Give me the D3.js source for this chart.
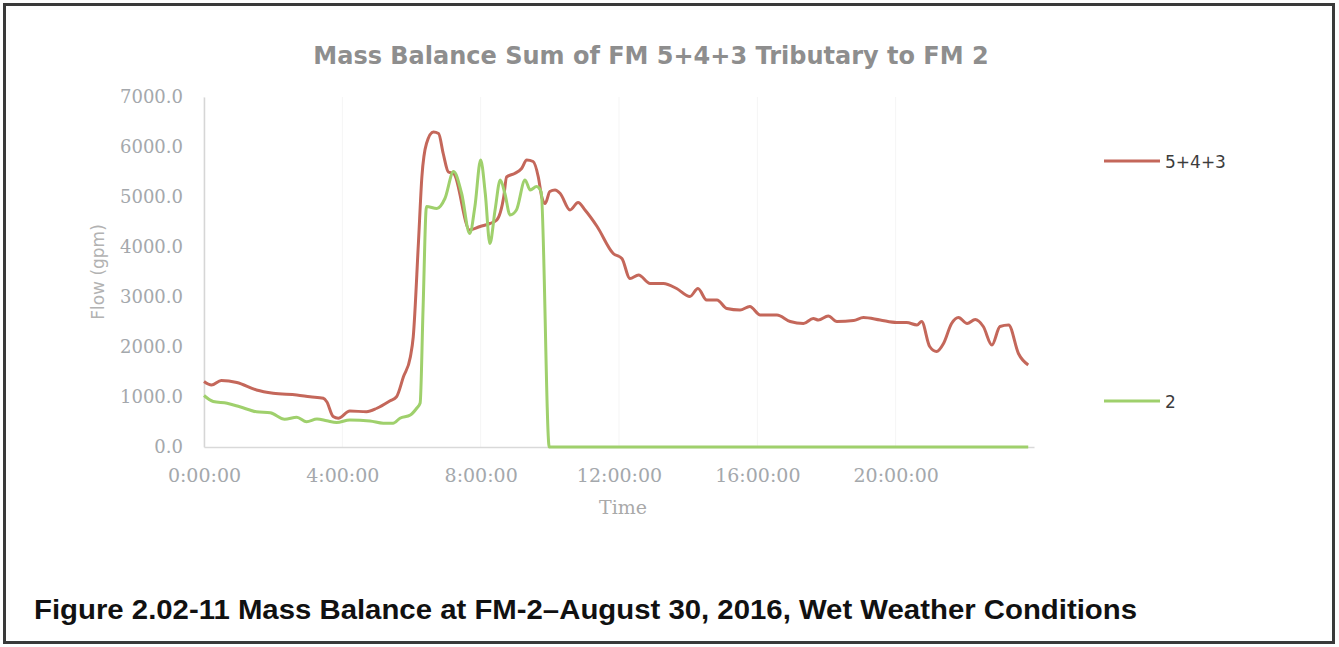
<!DOCTYPE html>
<html>
<head>
<meta charset="utf-8">
<script src="https://d3js.org/d3.v7.min.js"></script>
<style>
  html, body { margin: 0; padding: 0; background: #fff; }
  svg { display: block; }
</style>
</head>
<body>
<svg id="chart" width="1339" height="647"></svg>
<script>
// Sum of FM 5+4+3 (time as H:MM)
const sumTimes = ["0:00","0:13","0:30","0:57","1:31","2:00","2:41","3:04","3:27","3:33","3:44","3:53",
  "4:13","4:42","5:00","5:23","5:34","5:46","5:58","6:03","6:12","6:18","6:26","6:38","6:47","6:55",
  "7:04","7:13","7:41","7:59","8:16","8:28","8:40","8:45","8:59","9:11","9:20","9:31","9:40","9:46",
  "9:52","10:00","10:09","10:18","10:35","10:49","11:01","11:22","11:50","12:05","12:19","12:34",
  "12:54","13:17","13:40","14:03","14:17","14:32","14:50","15:07","15:30","15:47","16:05","16:34",
  "16:57","17:20","17:37","17:46","18:03","18:18","18:47","19:04","19:33","20:02","20:19","20:37",
  "20:45","20:59","21:11","21:23","21:37","21:49","22:04","22:18","22:32","22:47","23:01","23:16",
  "23:33","23:50"];
const sumFlow = [1310,1240,1330,1290,1140,1075,1040,1005,975,905,610,575,
  720,705,775,925,1005,1405,1800,2200,4080,5400,6070,6300,6270,5870,
  5500,5470,4340,4410,4470,4540,5000,5400,5470,5570,5740,5710,5400,5000,
  4870,5110,5140,5070,4740,4890,4740,4410,3870,3770,3370,3440,
  3270,3270,3170,3010,3170,2940,2940,2770,2740,2810,2640,2640,
  2510,2470,2570,2540,2620,2510,2530,2590,2540,2490,2490,2440,
  2510,2010,1910,2070,2470,2590,2470,2550,2410,2040,2410,2440,
  1870,1640];

// FM 2
const fm2Times = ["0:00","0:16","0:40","1:02","1:31","1:55","2:20","2:41","2:58","3:16","3:33","3:50",
  "4:13","4:48","5:11","5:28","5:40","5:58","6:09","6:15","6:20","6:26","6:44","6:58","7:13","7:27",
  "7:41","7:50","8:00","8:08","8:16","8:25","8:34","8:42","8:51","9:02","9:17","9:26","9:37","9:45",
  "9:59","23:50"];
const fm2Flow = [1030,910,875,805,705,685,555,595,505,560,525,490,
  540,520,475,475,575,640,775,880,2740,4810,4770,4970,5510,5070,
  4270,4810,5740,5070,4070,4740,5340,5070,4640,4740,5340,5140,5210,5100,
  0,0];

const seriesNames = ["5+4+3", "2"];
const seriesColors = ["#c4675a", "#9fd06c"];
const yTicks = [0,1000,2000,3000,4000,5000,6000,7000];
const xTickHours = [0,4,8,12,16,20];

const W = 1339, H = 647;
const plot = { left: 204, right: 1034, top: 97, bottom: 447 };

const toMin = s => { const [h, m] = s.split(":").map(Number); return h * 60 + m; };

const series = [
  { name: seriesNames[0], color: seriesColors[0], pts: sumTimes.map((t, i) => ({ t: toMin(t), v: sumFlow[i] })) },
  { name: seriesNames[1], color: seriesColors[1], pts: fm2Times.map((t, i) => ({ t: toMin(t), v: fm2Flow[i] })) }
];

const svg = d3.select("#chart");

svg.append("rect").attr("width", W).attr("height", H).attr("fill", "#fff");

const x = d3.scaleLinear().domain([0, 24 * 60]).range([plot.left, plot.right]);
const y = d3.scaleLinear().domain([0, 7000]).range([plot.bottom, plot.top]);

// faint gridlines
const grid = svg.append("g");
grid.selectAll(".vg").data(xTickHours).enter().append("line")
  .attr("x1", d => x(d * 60)).attr("x2", d => x(d * 60))
  .attr("y1", plot.top).attr("y2", plot.bottom)
  .attr("stroke", "#f5f5f5").attr("stroke-width", 1);

// axes
const yAxis = d3.axisLeft(y).tickValues(yTicks).tickSize(0).tickPadding(21)
  .tickFormat(d3.format(".1f"));
const gy = svg.append("g").attr("transform", `translate(${plot.left},0)`).call(yAxis);
gy.select(".domain").attr("stroke", "#d6d6d6").attr("stroke-width", 1.5);
gy.selectAll("text").attr("fill", "#a4a8ac").style("font-family", "DejaVu Serif")
  .style("font-size", "18px");

const xAxis = d3.axisBottom(x).tickValues(xTickHours.map(h => h * 60)).tickSize(0).tickPadding(22)
  .tickFormat(d => `${d / 60}:00:00`);
const gx = svg.append("g").attr("transform", `translate(0,${plot.bottom})`).call(xAxis);
gx.select(".domain").attr("stroke", "#d9d9d9").attr("stroke-width", 1.5);
gx.selectAll("text").attr("fill", "#a4a8ac").style("font-family", "DejaVu Serif")
  .style("font-size", "19px");

// lines
const line = d3.line().x(d => x(d.t)).y(d => y(d.v)).curve(d3.curveMonotoneX);
svg.append("g").selectAll("path").data(series).enter().append("path")
  .attr("d", d => line(d.pts))
  .attr("fill", "none")
  .attr("stroke", d => d.color)
  .attr("stroke-width", 3)
  .attr("stroke-linejoin", "round");

// title
svg.append("text")
  .attr("x", 651).attr("y", 64)
  .attr("text-anchor", "middle")
  .attr("fill", "#8e8e8e")
  .style("font-family", "DejaVu Sans").style("font-weight", "bold").style("font-size", "24px")
  .text("Mass Balance Sum of FM 5+4+3 Tributary to FM 2");

// axis titles
svg.append("text")
  .attr("transform", "translate(104,272) rotate(-90)")
  .attr("text-anchor", "middle")
  .attr("fill", "#b2b2b2")
  .style("font-family", "DejaVu Sans").style("font-size", "17px")
  .text("Flow (gpm)");

svg.append("text")
  .attr("x", 623).attr("y", 514)
  .attr("text-anchor", "middle")
  .attr("fill", "#a9a9a9")
  .style("font-family", "DejaVu Serif").style("font-size", "19px")
  .text("Time");

// legend
const legendY = [161, 401];
const leg = svg.append("g").selectAll("g").data(series).enter().append("g")
  .attr("transform", (d, i) => `translate(1104,${legendY[i]})`);
leg.append("line").attr("x1", 0).attr("x2", 56).attr("y1", 0).attr("y2", 0)
  .attr("stroke", d => d.color).attr("stroke-width", 3);
leg.append("text").attr("x", 61).attr("y", 7)
  .attr("fill", "#3c3c3c")
  .style("font-family", "DejaVu Sans").style("font-size", "17px")
  .text(d => d.name);

// caption
svg.append("text")
  .attr("x", 34).attr("y", 619)
  .attr("fill", "#111")
  .attr("textLength", 1103).attr("lengthAdjust", "spacingAndGlyphs")
  .style("font-family", "Liberation Sans").style("font-weight", "bold").style("font-size", "27px")
  .text("Figure 2.02-11 Mass Balance at FM-2\u2013August 30, 2016, Wet Weather Conditions");

// outer frame
svg.append("rect")
  .attr("x", 4.5).attr("y", 4.5).attr("width", 1329).attr("height", 638)
  .attr("fill", "none").attr("stroke", "#3a3a3a").attr("stroke-width", 3);
</script>
</body>
</html>
